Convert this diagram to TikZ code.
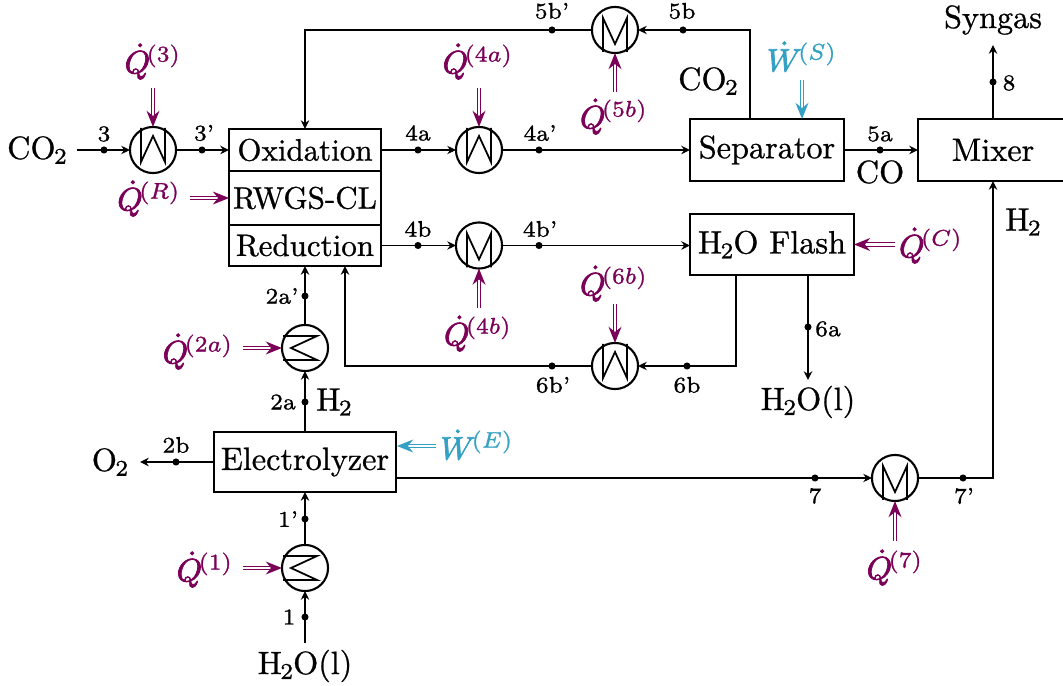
\documentclass[tikz,border=0pt]{standalone}
\usepackage{xcolor}
\usepackage{tikz}
\usetikzlibrary{positioning, arrows.meta}
\usepackage{amsmath}
\definecolor{HeatPurple}{RGB}{122,0,88}
\definecolor{WorkBlue}{RGB}{51,160,196}
\newcommand{\subtwo}{\kern-0.5pt$\scriptspace=0pt_2$}
\newcommand{\heatrate}[2]{$\special{pdf:code q 0.22 w}\smash{\dot{#1}}\special{pdf:code Q}\mkern-2mu{}^{(#2)}$}

\begin{document}
\begin{tikzpicture}[
          x=0.0109cm, y=-0.0109cm,
          every node/.style={execute at begin node={\special{pdf:code q 2 Tr 0.08 w}},
                             execute at end node={\special{pdf:code Q}}},
          unit/.style={rectangle, draw, line width=0.9pt, inner sep=0pt, outer sep=0pt, align=center},
          cell/.style={rectangle, draw, line width=0.35pt, inner sep=0pt, outer sep=0pt,
                       font=\fontsize{9.6}{11.5}\selectfont, minimum width=152*0.0109cm},
          hxc/.style={circle, draw, line width=0.65pt, inner sep=0pt, outer sep=0pt, minimum size=14.3pt},
          flow/.style={-{Stealth[length=2.7pt, width=2.6pt]}, line width=0.35pt},
          heat/.style={HeatPurple, double=white, double distance=0.7pt, line width=0.4pt,
                       -{Stealth[length=5pt, width=4pt]}},
          work/.style={heat, WorkBlue},
          dot/.style={circle, fill=black, inner sep=0pt, minimum size=2.2pt},
          stream/.style={font=\scriptsize, inner sep=0pt},
          qlabel/.style={text=HeatPurple, inner sep=0pt},
          wlabel/.style={text=WorkBlue, inner sep=0pt},
          pics/hxline/.style={code={
              \draw[line width=0.55pt] (-12,-22) -- (-12,12) -- (0,-14) -- (12,12) -- (12,-22);
          }}
        ]
        \useasboundingbox (0,0) rectangle (1063,686);

        % Feeds and products
        \node[inner sep=0pt] (co2in) at (37,150) {CO\subtwo};
        \node[inner sep=0pt] (h2oin) at (305,666) {H\subtwo O(l)};
        \node[inner sep=0pt] (h2oout) at (808,402) {H\subtwo O(l)};
        \node[inner sep=0pt] (o2out) at (110,462) {O\subtwo};
        \node[inner sep=0pt] (syngas) at (993,20) {Syngas};

        % Reactor
        \node[cell, minimum height=42*0.0109cm] (ox) at (305,150) {Oxidation};
        \node[cell, minimum height=54*0.0109cm] (rwgs) at (305,198) {RWGS-CL};
        \node[cell, minimum height=41*0.0109cm] (red) at (305,245.5) {Reduction};
        \draw[line width=0.9pt] (ox.north west) rectangle (red.south east);

        % Other units
        \node[unit, minimum width=154*0.0109cm, minimum height=62*0.0109cm] (sep) at (767,150) {Separator};
        \node[unit, minimum width=150*0.0109cm, minimum height=62*0.0109cm] (mix) at (993,150) {Mixer};
        \node[unit, minimum width=164*0.0109cm, minimum height=61*0.0109cm] (flash) at (772,244.5) {H\subtwo O Flash};
        \node[unit, minimum width=182*0.0109cm, minimum height=60*0.0109cm] (elec) at (305,462) {Electrolyzer};

        % Heat exchangers
        \node[hxc] (hx3) at (153,150) {};
        \pic at (hx3) {hxline};
        \node[hxc] (hx4a) at (479,150) {};
        \pic at (hx4a) {hxline};
        \node[hxc] (hx4b) at (479,245.5) {};
        \pic[rotate=180] at (hx4b) {hxline};
        \node[hxc] (hx5b) at (615,30) {};
        \pic[rotate=180] at (hx5b) {hxline};
        \node[hxc] (hx6b) at (615,366) {};
        \pic at (hx6b) {hxline};
        \node[hxc] (hx7) at (895,478) {};
        \pic[rotate=180] at (hx7) {hxline};
        \node[hxc] (hx2a) at (305,348) {};
        \pic[rotate=90] at (hx2a) {hxline};
        \node[hxc] (hx1) at (305,568) {};
        \pic[rotate=90] at (hx1) {hxline};

        % Connector corners and free ends
        \coordinate (co2end) at (77,150);
        \coordinate (h2oend) at (305,643);
        \coordinate (o2end) at (140,462);
        \coordinate (syngasend) at (993,45);
        \coordinate (h2ooutend) at (808,380);
        \coordinate (sepup) at (750,119);
        \coordinate (flashdowna) at (736,275);
        \coordinate (flashdownb) at (808,275);
        \coordinate (redporta) at (345,266);
        \coordinate (elecout) at (396,478);

        % Streams
        \draw[flow] (co2end) -- (hx3.west);
        \draw[flow] (hx3.east) -- (ox.west);
        \draw[flow] (ox.east) -- (hx4a.west);
        \draw[flow] (hx4a.east) -- (sep.west);
        \draw[flow] (red.east) -- (hx4b.west);
        \draw[flow] (hx4b.east) -- (hx4b.east -| flash.west);
        \draw[flow] (sepup) |- (hx5b.east);
        \draw[flow] (hx5b.west) -| (ox.north);
        \draw[flow] (sep.east) -- (mix.west);
        \draw[flow] (mix.north) -- (syngasend);
        \draw[flow] (flashdowna) |- (hx6b.east);
        \draw[flow] (hx6b.west) -| (redporta);
        \draw[flow] (flashdownb) -- (h2ooutend);
        \draw[flow] (elec.north) -- (hx2a.south);
        \draw[flow] (hx2a.north) -- (red.south);
        \draw[flow] (elec.west) -- (o2end);
        \draw[flow] (hx1.north) -- (elec.south);
        \draw[flow] (h2oend) -- (hx1.south);
        \draw[flow] (elecout) -- (hx7.west);
        \draw[flow] (hx7.east) -| (mix.south);

        % Stream points
        \node[dot] (d3) at (104,150) {};
        \node[dot] (d3p) at (202,150) {};
        \node[dot] (d4a) at (418,150) {};
        \node[dot] (d4ap) at (539,150) {};
        \node[dot] (d4b) at (418,245.5) {};
        \node[dot] (d4bp) at (539,245.5) {};
        \node[dot] (d5a) at (880,150) {};
        \node[dot] (d5b) at (683,30) {};
        \node[dot] (d5bp) at (552,30) {};
        \node[dot] (d6a) at (808,327) {};
        \node[dot] (d6b) at (687,366) {};
        \node[dot] (d6bp) at (552,366) {};
        \node[dot] (d7) at (815,478) {};
        \node[dot] (d7p) at (963,478) {};
        \node[dot] (d8) at (993,82) {};
        \node[dot] (d2a) at (305,402) {};
        \node[dot] (d2ap) at (305,296) {};
        \node[dot] (d2b) at (176,462) {};
        \node[dot] (d1) at (305,617) {};
        \node[dot] (d1p) at (305,519) {};

        % Stream numbers
        \node[stream] (s3) at (104,134) {3};
        \node[stream] (s3p) at (204,133) {3'};
        \node[stream] (s4a) at (418,133) {4a};
        \node[stream] (s4ap) at (540,133) {4a'};
        \node[stream] (s4b) at (418,229) {4b};
        \node[stream] (s4bp) at (540,229) {4b'};
        \node[stream] (s5a) at (880,134) {5a};
        \node[stream] (s5b) at (682,11) {5b};
        \node[stream] (s5bp) at (552,11) {5b'};
        \node[stream] (s6a) at (828,329) {6a};
        \node[stream] (s6b) at (687,385) {6b};
        \node[stream] (s6bp) at (553,385) {6b'};
        \node[stream] (s7) at (815,496) {7};
        \node[stream] (s7p) at (964,496) {7'};
        \node[stream] (s8) at (1009,83) {8};
        \node[stream] (s2a) at (283,402) {2a};
        \node[stream] (s2ap) at (282,296) {2a'};
        \node[stream] (s2b) at (176,445) {2b};
        \node[stream] (s1) at (289,617) {1};
        \node[stream] (s1p) at (288,519) {1'};

        % Species names on the streams
        \node[inner sep=0pt] (co2sep) at (708,81) {CO\subtwo};
        \node[inner sep=0pt] (cosep) at (880,172) {CO};
        \node[inner sep=0pt] (h2mix) at (1023,222) {H\subtwo};
        \node[inner sep=0pt] (h2elec) at (334,402) {H\subtwo};

        % Heat duties
        \node[qlabel] (q3) at (153,59) {\heatrate{Q}{3}};
        \node[qlabel] (qr) at (149,196) {\heatrate{Q}{R}};
        \node[qlabel] (q4a) at (478,59) {\heatrate{Q}{4a}};
        \node[qlabel] (q4b) at (478,331) {\heatrate{Q}{4b}};
        \node[qlabel] (q5b) at (614,114) {\heatrate{Q}{5b}};
        \node[qlabel] (q6b) at (614,281) {\heatrate{Q}{6b}};
        \node[qlabel] (q2a) at (198,349) {\heatrate{Q}{2a}};
        \node[qlabel] (q1) at (205,567) {\heatrate{Q}{1}};
        \node[qlabel] (q7) at (895,565) {\heatrate{Q}{7}};
        \node[qlabel] (qc) at (931,243) {\heatrate{Q}{C}};
        \node[wlabel] (we) at (477,445) {\heatrate{W}{E}};
        \node[wlabel] (ws) at (802,57) {\heatrate{W}{S}};

        % Free ends of the heat arrows
        \coordinate (q3from) at (153,88);
        \coordinate (qrfrom) at (190,198);
        \coordinate (qrto) at (229,198);
        \coordinate (q4afrom) at (479,88);
        \coordinate (q4bfrom) at (479,308);
        \coordinate (q5bfrom) at (615,92);
        \coordinate (q6bfrom) at (615,304);
        \coordinate (q2afrom) at (243,348);
        \coordinate (q1from) at (243,568);
        \coordinate (q7from) at (895,541);
        \coordinate (qcfrom) at (895,244.5);
        \coordinate (wefrom) at (436,446);
        \coordinate (weto) at (397,446);
        \coordinate (wsfrom) at (802,80);
        \coordinate (wsto) at (802,119);

        % Heat arrows
        \draw[heat] (q3from) -- (hx3.north);
        \draw[heat] (qrfrom) -- (qrto);
        \draw[heat] (q4afrom) -- (hx4a.north);
        \draw[heat] (q4bfrom) -- (hx4b.south);
        \draw[heat] (q5bfrom) -- (hx5b.south);
        \draw[heat] (q6bfrom) -- (hx6b.north);
        \draw[heat] (q2afrom) -- (hx2a.west);
        \draw[heat] (q1from) -- (hx1.west);
        \draw[heat] (q7from) -- (hx7.south);
        \draw[heat] (qcfrom) -- (flash.east);
        \draw[work] (wefrom) -- (weto);
        \draw[work] (wsfrom) -- (wsto);
      \end{tikzpicture}
\end{document}
